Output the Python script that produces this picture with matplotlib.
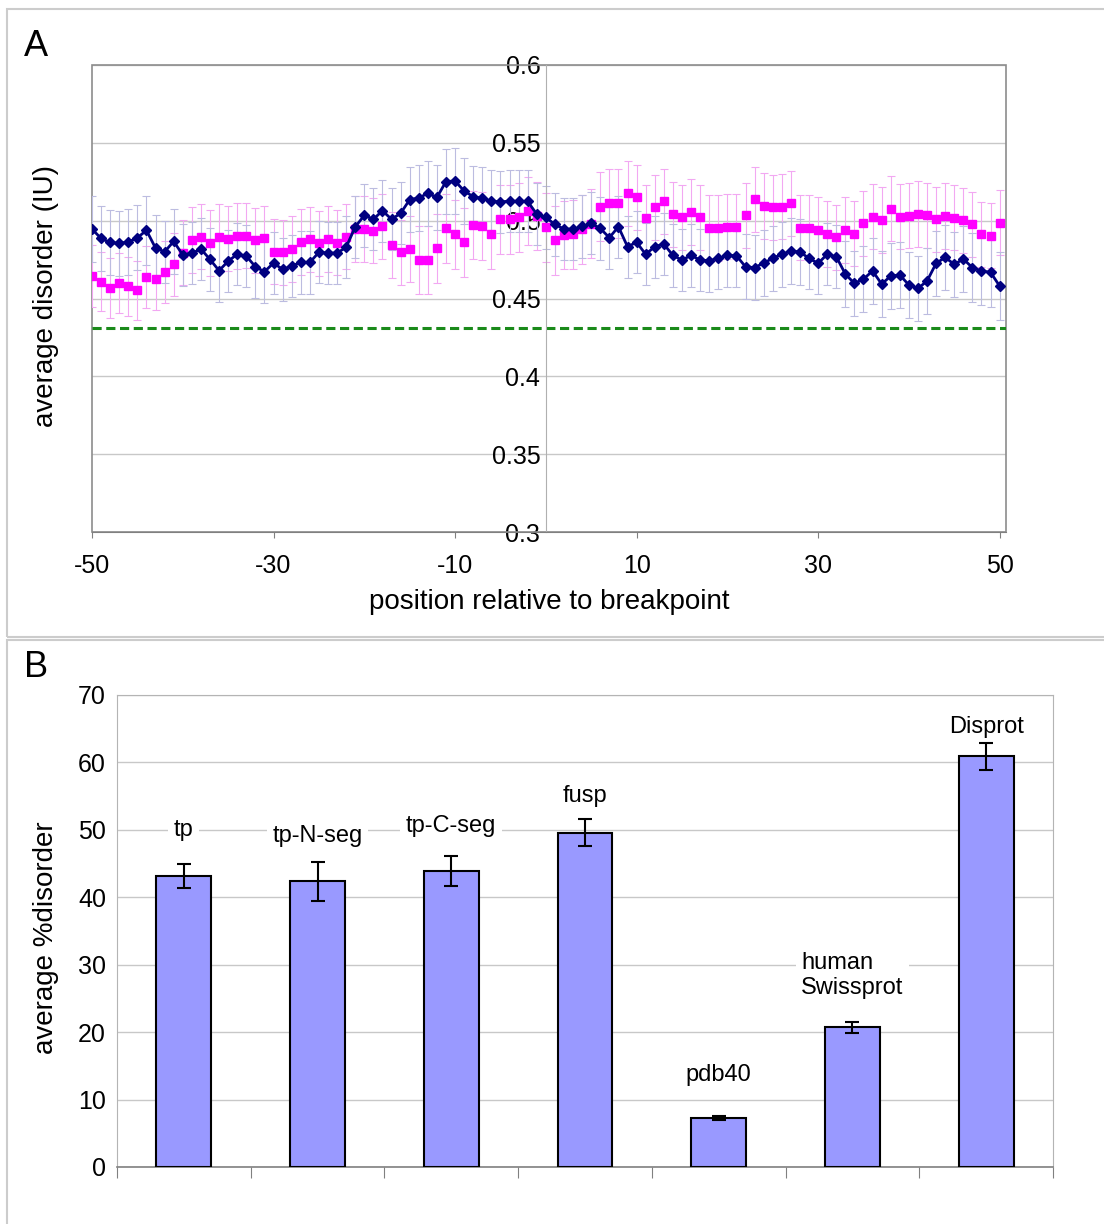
import matplotlib
matplotlib.use("Agg")
import matplotlib.pyplot as plt
from matplotlib.patches import Rectangle

plt.rcParams["font.family"] = ["Liberation Sans", "DejaVu Sans"]
plt.rcParams["axes.unicode_minus"] = False

# ---- panel A data: average disorder around the breakpoint ----
positions = list(range(-50, 51))

navy_vals = [
    0.4946, 0.4886, 0.4860, 0.4854, 0.4863, 0.4890, 0.4938, 0.4824, 0.4800, 0.4867,
    0.4780, 0.4790, 0.4818, 0.4751, 0.4679, 0.4740, 0.4784, 0.4773, 0.4704, 0.4672,
    0.4728, 0.4687, 0.4709, 0.4732, 0.4732, 0.4797, 0.4792, 0.4792, 0.4829, 0.4960,
    0.5034, 0.5009, 0.5064, 0.5009, 0.5047, 0.5135, 0.5146, 0.5176, 0.5150, 0.5251,
    0.5255, 0.5191, 0.5154, 0.5144, 0.5126, 0.5120, 0.5126, 0.5124, 0.5124, 0.5042,
    0.5021,
    0.4976, 0.4946, 0.4946, 0.4963, 0.4983, 0.4950, 0.4891, 0.4961, 0.4833, 0.4861,
    0.4784, 0.4833, 0.4850, 0.4777, 0.4747, 0.4777, 0.4747, 0.4743, 0.4758, 0.4777,
    0.4775, 0.4704, 0.4698, 0.4728, 0.4758, 0.4784, 0.4805, 0.4799, 0.4758, 0.4726,
    0.4784, 0.4769, 0.4657, 0.4597, 0.4625, 0.4677, 0.4593, 0.4644, 0.4651, 0.4587,
    0.4565, 0.4612, 0.4726, 0.4764, 0.4719, 0.4754, 0.4698, 0.4677, 0.4668, 0.4580,
]
navy_err = [
    0.021, 0.021, 0.021, 0.021, 0.021, 0.021, 0.022, 0.021, 0.020, 0.021,
    0.020, 0.020, 0.020, 0.020, 0.020, 0.020, 0.020, 0.020, 0.020, 0.020,
    0.020, 0.020, 0.020, 0.020, 0.020, 0.020, 0.020, 0.020, 0.020, 0.020,
    0.020, 0.020, 0.020, 0.020, 0.020, 0.021, 0.021, 0.021, 0.021, 0.021,
    0.021, 0.021, 0.020, 0.020, 0.020, 0.020, 0.020, 0.020, 0.020, 0.020,
    0.020,
    0.020, 0.020, 0.020, 0.020, 0.020, 0.020, 0.020, 0.020, 0.020, 0.020,
    0.020, 0.020, 0.020, 0.020, 0.020, 0.020, 0.020, 0.020, 0.020, 0.020,
    0.020, 0.021, 0.021, 0.021, 0.021, 0.021, 0.021, 0.021, 0.020, 0.020,
    0.020, 0.020, 0.021, 0.021, 0.021, 0.021, 0.021, 0.021, 0.021, 0.021,
    0.021, 0.021, 0.021, 0.021, 0.021, 0.021, 0.022, 0.022, 0.022, 0.022,
]
pink_vals = [
    0.4644, 0.4608, 0.4567, 0.4600, 0.4578, 0.4554, 0.4640, 0.4625, 0.4672, 0.4719,
    0.4794, 0.4876, 0.4897, 0.4856, 0.4895, 0.4884, 0.4901, 0.4904, 0.4874, 0.4886,
    0.4800, 0.4796, 0.4818, 0.4863, 0.4880, 0.4854, 0.4882, 0.4859, 0.4897, 0.4946,
    0.4946, 0.4936, 0.4964, 0.4844, 0.4796, 0.4818, 0.4747, 0.4747, 0.4822, 0.4951,
    0.4912, 0.4861, 0.4972, 0.4966, 0.4912, 0.5009, 0.5009, 0.5021, 0.5062, 0.5030,
    0.4957,
    0.4873, 0.4908, 0.4912, 0.4944, 0.4981, 0.5090, 0.5111, 0.5111, 0.5176, 0.5150,
    0.5019, 0.5086, 0.5124, 0.5041, 0.5021, 0.5056, 0.5021, 0.4953, 0.4953, 0.4961,
    0.4961, 0.5034, 0.5137, 0.5094, 0.5086, 0.5090, 0.5111, 0.4955, 0.4955, 0.4940,
    0.4914, 0.4893, 0.4940, 0.4916, 0.4983, 0.5026, 0.5004, 0.5077, 0.5026, 0.5032,
    0.5043, 0.5034, 0.5009, 0.5030, 0.5019, 0.5002, 0.4976, 0.4912, 0.4904, 0.4987,
]
pink_err = [
    0.020, 0.019, 0.019, 0.019, 0.019, 0.019, 0.020, 0.020, 0.020, 0.020,
    0.021, 0.021, 0.021, 0.021, 0.021, 0.021, 0.021, 0.021, 0.021, 0.021,
    0.021, 0.021, 0.021, 0.021, 0.021, 0.021, 0.021, 0.021, 0.021, 0.021,
    0.021, 0.021, 0.021, 0.021, 0.021, 0.021, 0.022, 0.022, 0.022, 0.022,
    0.022, 0.022, 0.022, 0.022, 0.022, 0.022, 0.022, 0.022, 0.022, 0.022,
    0.022,
    0.022, 0.022, 0.022, 0.022, 0.022, 0.022, 0.022, 0.022, 0.021, 0.021,
    0.021, 0.021, 0.021, 0.021, 0.021, 0.021, 0.021, 0.021, 0.021, 0.021,
    0.021, 0.021, 0.021, 0.021, 0.021, 0.021, 0.021, 0.021, 0.021, 0.021,
    0.021, 0.021, 0.021, 0.021, 0.021, 0.021, 0.021, 0.021, 0.021, 0.021,
    0.021, 0.021, 0.021, 0.021, 0.021, 0.021, 0.021, 0.021, 0.021, 0.021,
]
reference_level = 0.431

# ---- panel B data ----
datasets = ["tp", "tp-N-seg", "tp-C-seg", "fusp", "pdb40", "human\nSwissprot", "Disprot"]
pct_disorder = [43.2, 42.4, 43.9, 49.6, 7.2, 20.7, 60.9]
pct_err = [1.8, 2.9, 2.2, 2.0, 0.3, 0.8, 2.0]
label_y = [50.0, 49.1, 50.6, 55.0, 13.6, 28.4, 65.3]

W, H = 1104, 1224
fig = plt.figure(figsize=(W / 100, H / 100), dpi=100)

# panel frames
for (x0, y0, x1, y1) in [(7, 9, 1110, 637), (7, 640, 1110, 1230)]:
    fig.add_artist(Rectangle((x0 / W, 1 - y1 / H), (x1 - x0) / W, (y1 - y0) / H,
                             transform=fig.transFigure, fill=False,
                             edgecolor="#cccccc", linewidth=1.5))

fig.text(24 / W, 1 - 47 / H, "A", fontsize=26, va="center", ha="left")
fig.text(24 / W, 1 - 668 / H, "B", fontsize=26, va="center", ha="left")

# ---------------- panel A ----------------
axA = fig.add_axes([92 / W, 1 - 532 / H, (1006 - 92) / W, (532 - 65) / H])
axA.set_xlim(-50, 50.7)
axA.set_ylim(0.3, 0.6)
axA.set_yticks([0.3, 0.35, 0.4, 0.45, 0.5, 0.55, 0.6])
axA.set_yticklabels(["0.3", "0.35", "0.4", "0.45", "0.5", "0.55", "0.6"])
axA.set_xticks([-50, -30, -10, 10, 30, 50])
axA.grid(axis="y", color="#c8c8c8", linewidth=1.0)
axA.set_axisbelow(True)

axA.spines["left"].set_position(("data", 0))
axA.spines["left"].set_color("#b0b0b0")
axA.spines["bottom"].set_color("#808080")
axA.spines["top"].set_visible(False)
axA.spines["right"].set_visible(False)
axA.add_patch(Rectangle((0, 0), 1, 1, transform=axA.transAxes, fill=False,
                        edgecolor="#8c8c8c", linewidth=1.2, clip_on=False, zorder=0.8))
axA.tick_params(axis="y", length=0, pad=4, labelsize=18)
axA.tick_params(axis="x", length=4, color="#808080", pad=12, labelsize=18)

axA.axhline(reference_level, color="#1a8a1a", linestyle=(0, (3, 1.5)), linewidth=2.2, zorder=2)

axA.errorbar(positions, pink_vals, yerr=pink_err, fmt="none", ecolor="#f2a8f2",
             elinewidth=0.8, capsize=3, capthick=0.8, zorder=2)
axA.errorbar(positions, navy_vals, yerr=navy_err, fmt="none", ecolor="#bcbce0",
             elinewidth=0.8, capsize=3, capthick=0.8, zorder=2)
axA.plot(positions, pink_vals, linestyle="none", marker="s", markersize=6,
         color="#ff00ff", zorder=3)
axA.plot(positions, navy_vals, linestyle="-", linewidth=2.0, marker="D", markersize=5,
         color="#000080", zorder=4)

axA.set_xlabel("position relative to breakpoint", fontsize=20, labelpad=8)
fig.text(46 / W, 1 - 296 / H, "average disorder (IU)", rotation=90,
         fontsize=20, va="center", ha="center")

# ---------------- panel B ----------------
axB = fig.add_axes([117 / W, 1 - 1167 / H, (1053 - 117) / W, (1167 - 695) / H])
idx = list(range(len(datasets)))
axB.bar(idx, pct_disorder, width=0.41, color="#9999ff", edgecolor="black",
        linewidth=1.5, zorder=3)
axB.errorbar(idx, pct_disorder, yerr=pct_err, fmt="none", ecolor="black",
             elinewidth=1.5, capsize=5, capthick=1.5, zorder=4)
for i, name in enumerate(datasets):
    axB.text(i, label_y[i], name, fontsize=17, ha="center", va="center",
             multialignment="left", zorder=2,
             bbox=dict(facecolor="white", edgecolor="none", pad=4))

axB.set_xlim(-0.5, len(datasets) - 0.5)
axB.set_ylim(0, 70)
axB.set_yticks(range(0, 71, 10))
axB.grid(axis="y", color="#c8c8c8", linewidth=1.0)
axB.set_axisbelow(True)
axB.set_xticks([i - 0.5 for i in range(len(datasets) + 1)])
axB.set_xticklabels([])
axB.tick_params(axis="x", length=8, color="#808080")
axB.tick_params(axis="y", length=0, pad=8, labelsize=18)
for side in ["top", "right", "left"]:
    axB.spines[side].set_color("#b4b4b4")
axB.spines["bottom"].set_color("#808080")
axB.spines["bottom"].set_linewidth(1.2)
fig.text(46 / W, 1 - 938 / H, "average %disorder", rotation=90,
         fontsize=20, va="center", ha="center")

fig.savefig("out.png", dpi=100)
